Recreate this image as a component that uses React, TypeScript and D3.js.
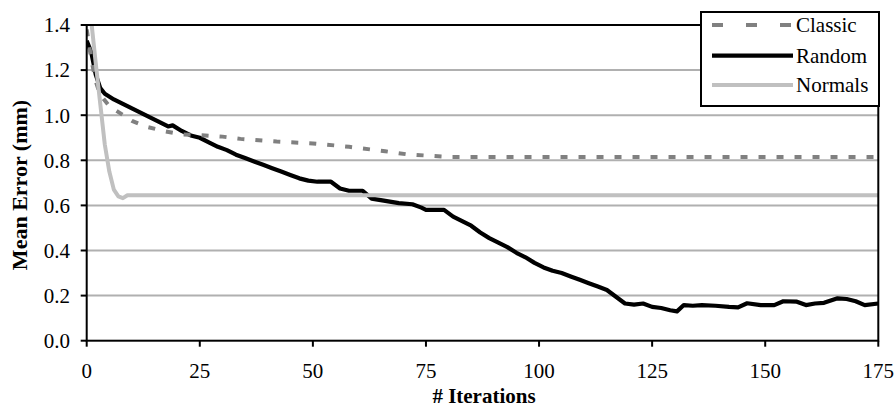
import React from "react";
import * as d3 from "d3";

const xTicks = [0, 25, 50, 75, 100, 125, 150, 175];
const yTicks = [0, 0.2, 0.4, 0.6, 0.8, 1.0, 1.2, 1.4];

const seriesNames = ["Classic", "Random", "Normals"];

const classicIter = [0, 1, 2, 3, 5, 10, 13, 17, 21, 25, 30, 34, 42, 50, 58, 66, 71, 76, 80, 175];
const classicVal = [1.38, 1.25, 1.15, 1.09, 1.04, 0.975, 0.95, 0.93, 0.915, 0.912, 0.905, 0.895, 0.883, 0.875, 0.86, 0.84, 0.826, 0.82, 0.815, 0.815];

const randomIter = [0, 1, 2, 3, 4, 6, 8, 10, 12, 14, 16, 18, 19, 21, 23, 25, 27, 29, 31, 33, 35, 37, 39, 41, 43, 45, 47, 49, 51, 54, 56, 58, 61, 63, 66, 69, 72, 74, 75, 79, 81, 83, 85, 87, 89, 91, 93, 95, 97, 99, 101, 103, 105, 107, 109, 111, 113, 115, 117, 119, 121, 123, 125, 127, 129, 130.5, 132, 134, 136, 139, 142, 144, 146, 149, 152, 154, 157, 159, 161, 163, 166, 168, 170, 172, 175];
const randomVal = [1.33, 1.28, 1.18, 1.12, 1.095, 1.07, 1.05, 1.03, 1.01, 0.99, 0.97, 0.95, 0.955, 0.93, 0.91, 0.9, 0.88, 0.86, 0.845, 0.825, 0.81, 0.795, 0.78, 0.765, 0.75, 0.735, 0.72, 0.71, 0.705, 0.705, 0.675, 0.665, 0.665, 0.63, 0.62, 0.61, 0.605, 0.59, 0.58, 0.58, 0.55, 0.53, 0.51, 0.48, 0.455, 0.435, 0.415, 0.39, 0.37, 0.345, 0.325, 0.31, 0.3, 0.285, 0.27, 0.255, 0.24, 0.225, 0.195, 0.165, 0.16, 0.165, 0.15, 0.145, 0.135, 0.13, 0.158, 0.155, 0.158, 0.155, 0.15, 0.148, 0.166, 0.158, 0.158, 0.175, 0.173, 0.158, 0.165, 0.168, 0.188, 0.185, 0.175, 0.158, 0.165];

const normalsIter = [1, 2, 3, 4, 5, 6, 7, 8, 9, 175];
const normalsVal = [1.42, 1.23, 1.05, 0.87, 0.75, 0.67, 0.64, 0.632, 0.645, 0.645];

const W = 895;
const H = 410;
const M = { left: 86.7, right: 878.3, top: 25, bottom: 340.7 };
const FONT = "'Liberation Serif', 'Times New Roman', serif";

export default function App() {
  const x = d3.scaleLinear().domain([0, 175]).range([M.left, M.right]);
  const y = d3.scaleLinear().domain([0, 1.4]).range([M.bottom, M.top]);

  const mk = (iters: number[], vals: number[]) =>
    d3
      .line<number>()
      .x((_, i) => x(iters[i]))
      .y((v) => y(v))(vals) || "";

  const classicPath = mk(classicIter, classicVal);
  const randomPath = mk(randomIter, randomVal);
  const normalsPath = mk(normalsIter, normalsVal);

  const legendX0 = 712;
  const legendX1 = 793;
  const legendRows = [25, 55.7, 85];

  return (
    <svg width={W} height={H} style={{ position: "absolute", left: 0, top: 0, background: "#fff" }}>
      <defs>
        <clipPath id="plotClip">
          <rect x={M.left} y={M.top} width={M.right - M.left} height={M.bottom - M.top} />
        </clipPath>
      </defs>
      {yTicks.slice(1, -1).map((t) => (
        <line key={"g" + t} x1={M.left} x2={M.right} y1={y(t)} y2={y(t)} stroke="#b0b0b0" strokeWidth={2} />
      ))}
      <g clipPath="url(#plotClip)" fill="none" strokeLinejoin="round">
        <path d={randomPath} stroke="#000" strokeWidth={4.2} />
        <path d={classicPath} stroke="#808080" strokeWidth={4} strokeDasharray="7,11" />
        <path d={normalsPath} stroke="#c0c0c0" strokeWidth={4} />
      </g>
      <rect x={M.left} y={M.top} width={M.right - M.left} height={M.bottom - M.top} fill="none" stroke="#000" strokeWidth={2} />
      {yTicks.map((t) => (
        <g key={"y" + t}>
          <line x1={M.left - 6} x2={M.left} y1={y(t)} y2={y(t)} stroke="#000" strokeWidth={2} />
          <text x={70} y={y(t)} dy="0.35em" textAnchor="end" fontFamily={FONT} fontSize={21} fill="#000">
            {t.toFixed(1)}
          </text>
        </g>
      ))}
      {xTicks.map((t) => (
        <g key={"x" + t}>
          <line x1={x(t)} x2={x(t)} y1={M.bottom} y2={M.bottom + 6} stroke="#000" strokeWidth={2} />
          <text x={x(t)} y={378} textAnchor="middle" fontFamily={FONT} fontSize={21} fill="#000">
            {t}
          </text>
        </g>
      ))}
      <text x={484} y={403} textAnchor="middle" fontFamily={FONT} fontSize={21} fontWeight="bold" fill="#000">
        # Iterations
      </text>
      <text
        transform={`translate(27,185) rotate(-90)`}
        textAnchor="middle"
        fontFamily={FONT}
        fontSize={22}
        fontWeight="bold"
        fill="#000"
      >
        Mean Error (mm)
      </text>
      <rect x={701} y={12} width={178} height={94} fill="#fff" stroke="#000" strokeWidth={2} />
      <line x1={legendX0} x2={legendX1} y1={legendRows[0]} y2={legendRows[0]} stroke="#808080" strokeWidth={4} strokeDasharray="11,23" />
      <line x1={legendX0} x2={legendX1} y1={legendRows[1]} y2={legendRows[1]} stroke="#000" strokeWidth={4.2} />
      <line x1={legendX0} x2={legendX1} y1={legendRows[2]} y2={legendRows[2]} stroke="#c0c0c0" strokeWidth={4} />
      {seriesNames.map((n, i) => (
        <text key={n} x={796} y={legendRows[i]} dy="0.33em" fontFamily={FONT} fontSize={21} fill="#000">
          {n}
        </text>
      ))}
    </svg>
  );
}
